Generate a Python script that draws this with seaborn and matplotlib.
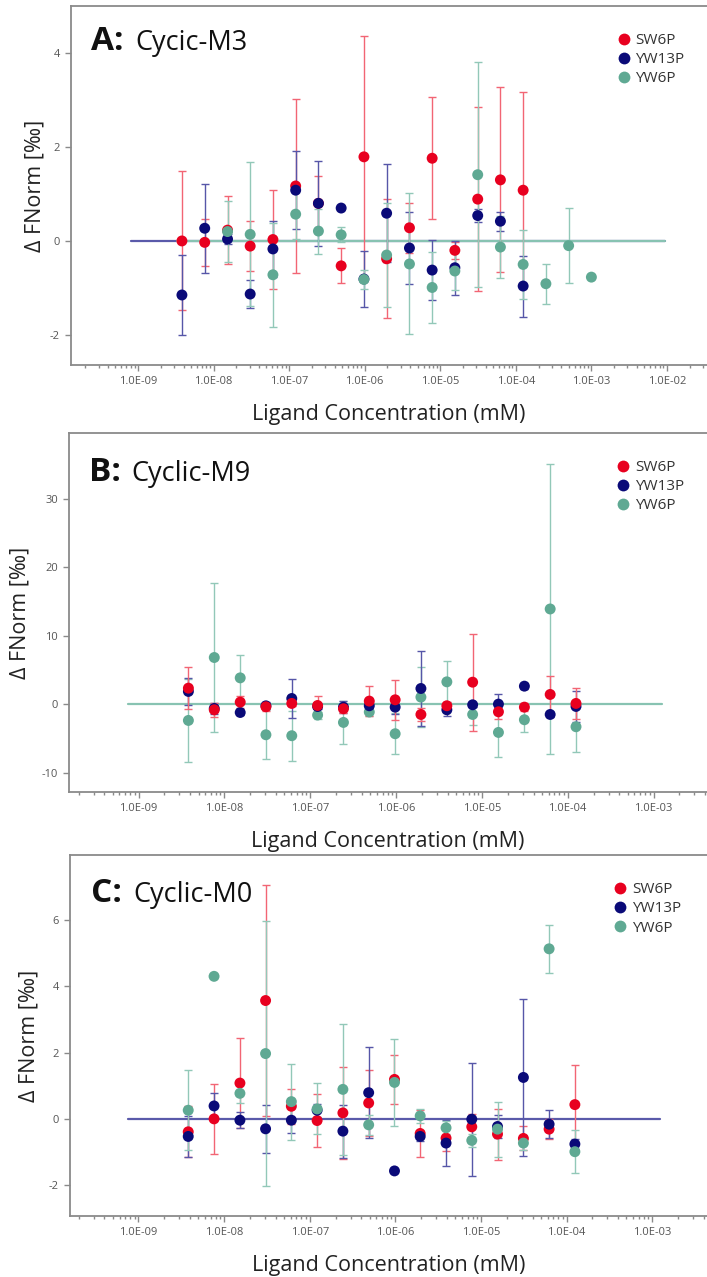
import numpy as np
import pandas as pd
import matplotlib
matplotlib.use("Agg")
import matplotlib.pyplot as plt
import seaborn as sns
from matplotlib.ticker import FixedLocator, NullFormatter, FuncFormatter
from matplotlib.lines import Line2D

sns.set_theme(style="ticks")
plt.rcParams['font.family'] = ['Open Sans', 'DejaVu Sans']

# ---------------- data ----------------
series = ["SW6P", "YW13P", "YW6P"]
point_colors = {"SW6P": "#e8001f", "YW13P": "#0a0a78", "YW6P": "#5fa993"}
err_colors = {"SW6P": "#f26574", "YW13P": "#5656a8", "YW6P": "#92c8b8"}

conc = [3.81e-9, 7.63e-9, 1.53e-8, 3.05e-8, 6.10e-8, 1.22e-7, 2.44e-7, 4.88e-7,
        9.77e-7, 1.95e-6, 3.91e-6, 7.81e-6, 1.56e-5, 3.13e-5, 6.25e-5, 1.25e-4]
conc_a_yw6p = [1.53e-8, 3.05e-8, 6.10e-8, 1.22e-7, 2.44e-7, 4.88e-7, 9.77e-7, 1.95e-6,
               3.91e-6, 7.81e-6, 1.56e-5, 3.13e-5, 6.25e-5, 1.25e-4, 2.5e-4, 5.0e-4, 1.0e-3]

# Panel A: Cycic-M3
a_sw6p = [0.0, -0.03, 0.23, -0.11, 0.03, 1.17, 0.80, -0.53, 1.79, -0.38, 0.28, 1.76, -0.20, 0.89, 1.30, 1.08]
a_sw6p_err = [1.48, 0.50, 0.73, 0.53, 1.05, 1.85, 0.58, 0.37, 2.57, 1.27, 0.53, 1.30, 0.18, 1.96, 1.97, 2.09]
a_yw13p = [-1.15, 0.27, 0.04, -1.13, -0.17, 1.08, 0.80, 0.70, -0.81, 0.59, -0.15, -0.62, -0.57, 0.54, 0.42, -0.96]
a_yw13p_err = [0.86, 0.95, 0.10, 0.29, 0.60, 0.83, 0.90, 0.0, 0.60, 1.04, 0.77, 0.63, 0.57, 0.13, 0.20, 0.65]
a_yw6p = [0.20, 0.14, -0.72, 0.57, 0.21, 0.13, -0.82, -0.30, -0.49, -0.99, -0.64, 1.41, -0.13, -0.50, -0.91, -0.10, -0.77]
a_yw6p_err = [0.65, 1.53, 1.11, 0.52, 0.48, 0.16, 0.20, 1.10, 1.50, 0.75, 0.40, 2.40, 0.66, 0.73, 0.43, 0.80, 0.0]

# Panel B: Cyclic-M9
b_sw6p = [2.38, -0.78, 0.34, -0.34, 0.15, -0.15, -0.63, 0.49, 0.68, -1.46, -0.19, 3.25, -1.07, -0.39, 1.46, 0.15]
b_sw6p_err = [3.1, 1.0, 0.9, 0.6, 0.4, 1.4, 0.6, 2.2, 2.9, 1.0, 0.5, 7.1, 1.0, 0.6, 2.7, 2.2]
b_yw13p = [1.9, -0.58, -1.17, -0.2, 0.87, -0.3, -0.39, -0.19, -0.39, 2.33, -0.78, -0.05, 0.05, 2.67, -1.46, -0.29]
b_yw13p_err = [2.0, 0.8, 0.3, 0.5, 2.8, 0.4, 0.9, 0.5, 1.0, 5.4, 0.9, 0.3, 1.5, 0.4, 0.3, 2.2]
b_yw6p = [-2.33, 6.85, 3.88, -4.42, -4.56, -1.55, -2.62, -1.1, -4.27, 1.07, 3.3, -1.46, -4.08, -2.23, 13.93, -3.25]
b_yw6p_err = [6.1, 10.8, 3.4, 3.55, 3.65, 0.5, 3.1, 0.6, 3.0, 4.4, 3.0, 1.5, 3.6, 1.8, 21.2, 3.65]

# Panel C: Cyclic-M0
c_sw6p = [-0.39, 0.0, 1.08, 3.57, 0.38, -0.05, 0.18, 0.48, 1.19, -0.44, -0.58, -0.24, -0.46, -0.59, -0.31, 0.43]
c_sw6p_err = [0.77, 1.06, 1.35, 3.48, 0.53, 0.8, 1.38, 1.0, 0.73, 0.71, 0.4, 0.4, 0.77, 0.36, 0.3, 1.19]
c_yw13p = [-0.53, 0.39, -0.04, -0.3, -0.04, 0.26, -0.37, 0.79, -1.57, -0.53, -0.73, -0.01, -0.23, 1.25, -0.16, -0.76]
c_yw13p_err = [0.62, 0.38, 0.25, 0.72, 0.4, 0.2, 0.8, 1.38, 0.0, 0.15, 0.7, 1.71, 0.36, 2.37, 0.43, 0.16]
c_yw6p = [0.26, 4.3, 0.77, 1.97, 0.52, 0.3, 0.89, -0.18, 1.1, 0.09, -0.27, -0.65, -0.31, -0.73, 5.13, -0.99]
c_yw6p_err = [1.21, 0.0, 0.3, 4.0, 1.15, 0.77, 1.97, 0.3, 1.32, 0.2, 0.2, 0.2, 0.83, 0.2, 0.73, 0.65]

# fitted (flat) lines: x-range and level
fit_a = [("YW13P", [8.0e-10, 9.5e-3]), ("YW6P", [3.3e-9, 9.5e-3])]
fit_b = [("YW6P", [7.6e-10, 1.25e-3])]
fit_c = [("YW13P", [7.6e-10, 1.23e-3])]
fit_level = [0.0, 0.0]

y_ticks_a = [-2, 0, 2, 4]
y_ticks_b = [-10, 0, 10, 20, 30]
y_ticks_c = [-2, 0, 2, 4, 6]
x_ticks_a = [1e-9, 1e-8, 1e-7, 1e-6, 1e-5, 1e-4, 1e-3, 1e-2]
x_ticks_bc = [1e-9, 1e-8, 1e-7, 1e-6, 1e-5, 1e-4, 1e-3]

panel_letters = ["A:", "B:", "C:"]
panel_names = ["Cycic-M3", "Cyclic-M9", "Cyclic-M0"]
x_label = "Ligand Concentration (mM)"
y_label = "\u0394 FNorm [\u2030]"


def frame(sets):
    rows = []
    for name, xs, ys, es in sets:
        rows.append(pd.DataFrame({"conc": xs, "value": ys, "err": es, "series": name}))
    return pd.concat(rows, ignore_index=True)


dfA = frame([("SW6P", conc, a_sw6p, a_sw6p_err), ("YW13P", conc, a_yw13p, a_yw13p_err),
             ("YW6P", conc_a_yw6p, a_yw6p, a_yw6p_err)])
dfB = frame([("YW6P", conc, b_yw6p, b_yw6p_err), ("YW13P", conc, b_yw13p, b_yw13p_err),
             ("SW6P", conc, b_sw6p, b_sw6p_err)])
dfC = frame([("SW6P", conc, c_sw6p, c_sw6p_err), ("YW13P", conc, c_yw13p, c_yw13p_err),
             ("YW6P", conc, c_yw6p, c_yw6p_err)])

W, H = 707, 1277
fig = plt.figure(figsize=(W / 100, H / 100), dpi=100)

line_colors = {"YW13P": "#5a5aaa", "YW6P": "#88c3b2", "SW6P": "#f26574"}
grey = "#8a8a8a"


def minor_positions(xlim):
    lo, hi = np.floor(np.log10(xlim[0])), np.ceil(np.log10(xlim[1]))
    out = []
    for e in np.arange(lo, hi + 1):
        for m in range(2, 10):
            v = m * 10.0 ** e
            if xlim[0] <= v <= xlim[1]:
                out.append(v)
    return out


def panel(rect, df, fits, xlim, ylim, xticks, yticks, letter, name, ylabelpad, title_xy, name_x, leg_anchor):
    ax = fig.add_axes([rect[0] / W, 1 - rect[3] / H, (rect[2] - rect[0]) / W, (rect[3] - rect[1]) / H])
    for s, xs in fits:
        sns.lineplot(x=xs, y=fit_level, ax=ax, color=line_colors[s], lw=1.6, zorder=1)
    order = list(dict.fromkeys(df["series"]))
    for s in order:
        d = df[df["series"] == s]
        ax.errorbar(d["conc"], d["value"], yerr=d["err"], fmt="none", ecolor=err_colors[s],
                    elinewidth=1.0, capsize=2.6, capthick=1.0, zorder=2)
    sns.scatterplot(data=df, x="conc", y="value", hue="series", palette=point_colors,
                    s=62, edgecolor="none", linewidth=0, legend=False, ax=ax, zorder=3)
    ax.set_xscale("log")
    ax.set_xlim(*xlim)
    ax.set_ylim(*ylim)
    ax.xaxis.set_major_locator(FixedLocator(xticks))
    ax.xaxis.set_minor_locator(FixedLocator(minor_positions(xlim)))
    ax.xaxis.set_minor_formatter(NullFormatter())
    ax.xaxis.set_major_formatter(FuncFormatter(lambda v, p: f"{v:.1E}"))
    ax.yaxis.set_major_locator(FixedLocator(yticks))
    ax.yaxis.set_major_formatter(FuncFormatter(lambda v, p: f"{v:g}"))
    ax.tick_params(axis="both", which="major", direction="out", length=4, width=1, color=grey,
                   labelsize=8, labelcolor="#555555", pad=4)
    ax.tick_params(axis="x", which="minor", direction="out", length=2.5, width=1, color=grey)
    for sp in ["left", "bottom", "top"]:
        ax.spines[sp].set_color(grey)
        ax.spines[sp].set_linewidth(1.3)
    ax.spines["right"].set_visible(False)
    ax.set_xlabel(x_label, fontsize=15.5, color="#222222", labelpad=12)
    ax.set_ylabel(y_label, fontsize=15.5, color="#222222", labelpad=ylabelpad)
    ax.text(title_xy[0], title_xy[1], letter, transform=ax.transAxes, fontsize=24,
            fontweight="bold", color="#111111", va="baseline", ha="left")
    ax.text(name_x, title_xy[1], name, transform=ax.transAxes, fontsize=19.5,
            color="#111111", va="baseline", ha="left")
    handles = [Line2D([], [], marker="o", ls="", color=point_colors[s], markersize=8.5,
                      markeredgewidth=0) for s in series]
    ax.legend(handles, series, loc="upper left", bbox_to_anchor=leg_anchor, frameon=False,
              fontsize=11, handletextpad=0.25, labelspacing=0.28, handlelength=1.0,
              borderpad=0, borderaxespad=0, labelcolor="#333333")
    return ax


panel((71, 6, 707, 365), dfA, fit_a, (10 ** -9.887, 10 ** -1.47), (-2.64, 5.0), x_ticks_a, y_ticks_a,
      panel_letters[0], panel_names[0], 3, (0.031, 0.877), 0.1006, (0.857, 0.925))
panel((69, 433, 707, 792), dfB, fit_b, (10 ** -9.81, 10 ** -2.377), (-12.77, 39.6), x_ticks_bc, y_ticks_b,
      panel_letters[1], panel_names[1], 8, (0.031, 0.867), 0.098, (0.857, 0.925))
panel((70, 855, 707, 1216), dfC, fit_c, (10 ** -9.80, 10 ** -2.36), (-2.93, 7.96), x_ticks_bc, y_ticks_c,
      panel_letters[2], panel_names[2], 7, (0.033, 0.871), 0.099, (0.852, 0.925))

fig.savefig("out.png", dpi=100)
